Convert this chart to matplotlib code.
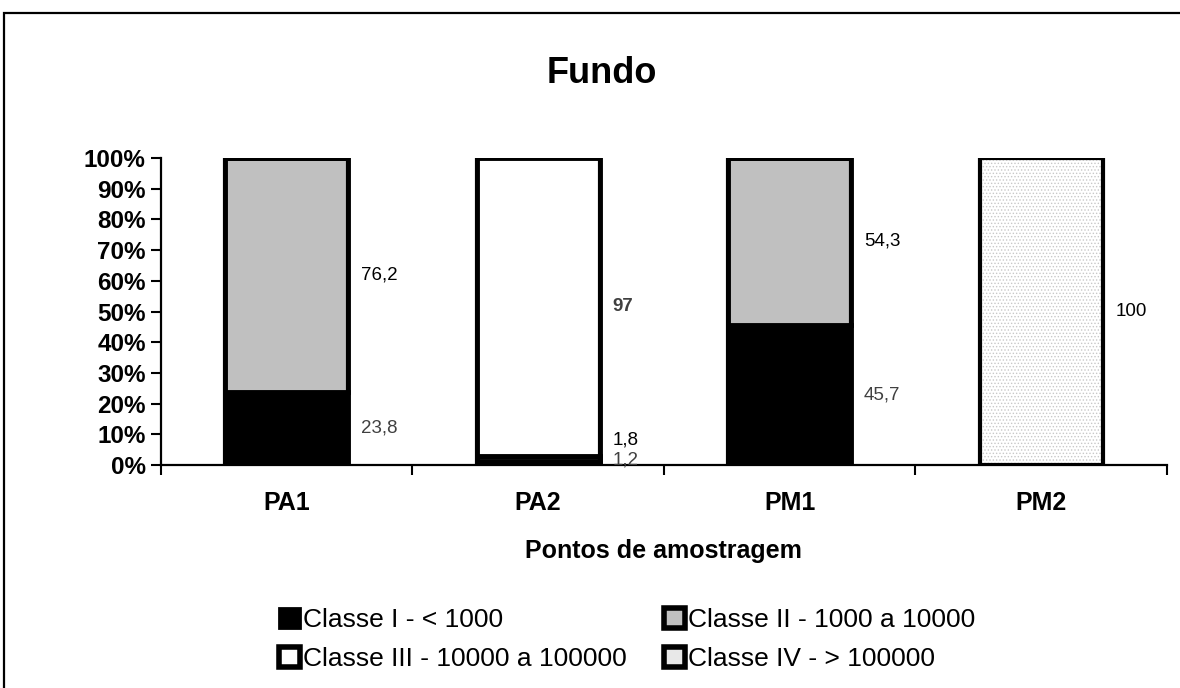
import matplotlib
matplotlib.use('Agg')
import matplotlib.pyplot as plt
from matplotlib.patches import Rectangle
import numpy as np

# data
pontos = ['PA1', 'PA2', 'PM1', 'PM2']
classes = ['Classe I - < 1000', 'Classe II - 1000 a 10000',
           'Classe III - 10000 a 100000', 'Classe IV - > 100000']
classe_1 = [23.8, 1.2, 45.7, 0]
classe_2 = [76.2, 1.8, 54.3, 0]
classe_3 = [0, 97, 0, 0]
classe_4 = [0, 0, 0, 100]

plt.rcParams['font.family'] = ['Liberation Sans', 'DejaVu Sans']
plt.rcParams['hatch.linewidth'] = 0.6

fig = plt.figure(figsize=(11.8, 6.88), dpi=100)
ax = fig.add_axes([0.1364, 0.3241, 0.8525, 0.4462])

# outer frame of the chart area
fig.patches.append(Rectangle((4 / 1180, -0.05), 1.2, 1.05 - 13 / 688,
                             transform=fig.transFigure, fill=False,
                             edgecolor='black', linewidth=1.6))

x = np.arange(len(pontos)) + 0.5
width = 0.49
series = [classe_1, classe_2, classe_3, classe_4]
fills = ['black', '#c0c0c0', 'white', 'white']

bottom = np.zeros(len(pontos))
for i, vals in enumerate(series):
    vals = np.array(vals, dtype=float)
    if i == 3:
        ax.bar(x, vals, width, bottom=bottom, color='white',
               edgecolor='#c8c8c8', linewidth=0, hatch='.....')
    else:
        ax.bar(x, vals, width, bottom=bottom, color=fills[i],
               edgecolor='black', linewidth=3.5)
    bottom += vals

# thick outline around each stacked bar
ax.bar(x, bottom, width, fill=False, edgecolor='black', linewidth=3,
       joinstyle='miter')

# value labels, to the right of each segment
label_colors = ['#404040', 'black', '#404040', 'black']
nudge = {(1, 0): 1.0, (1, 1): 6.0}
bottom = np.zeros(len(pontos))
for i, vals in enumerate(series):
    for j, v in enumerate(vals):
        if v <= 0:
            continue
        yc = bottom[j] + v / 2 + nudge.get((j, i), 0)
        txt = f'{v:g}'.replace('.', ',')
        weight = 'bold' if (i == 2) else 'normal'
        ax.text(x[j] + width / 2 + 0.05, yc, txt, ha='left', va='center',
                fontsize=13.5, color=label_colors[i], fontweight=weight)
    bottom += np.array(vals, dtype=float)

ax.set_xlim(0, 4)
ax.set_ylim(0, 100)
ax.set_yticks(np.arange(0, 101, 10))
ax.set_yticklabels([f'{v}%' for v in range(0, 101, 10)],
                   fontsize=17.5, fontweight='bold')
ax.set_xticks(x)
ax.set_xticklabels(pontos, fontsize=18, fontweight='bold')
ax.tick_params(axis='x', which='major', length=0, pad=19)
ax.set_xticks(np.arange(0, 5), minor=True)
ax.tick_params(axis='x', which='minor', length=7, width=1.5, direction='out')
ax.tick_params(axis='y', length=7, width=1.5, direction='out', pad=4)

for s in ['top', 'right']:
    ax.spines[s].set_visible(False)
for s in ['left', 'bottom']:
    ax.spines[s].set_linewidth(1.6)

ax.set_xlabel('Pontos de amostragem', fontsize=18, fontweight='bold',
              labelpad=17)
fig.text(0.51, 1 - 83 / 688, 'Fundo', ha='center', va='baseline',
         fontsize=26, fontweight='bold')

# legend
handles = [
    Rectangle((0, 0), 1, 1, facecolor='black', edgecolor='black', linewidth=2),
    Rectangle((0, 0), 1, 1, facecolor='#c0c0c0', edgecolor='black', linewidth=4),
    Rectangle((0, 0), 1, 1, facecolor='white', edgecolor='black', linewidth=4),
    Rectangle((0, 0), 1, 1, facecolor='#e8e8e8', edgecolor='black', linewidth=4),
]
order = [0, 2, 1, 3]
fig.legend([handles[k] for k in order], [classes[k] for k in order],
           ncol=2, loc='center left', bbox_to_anchor=(0.2364, 0.0705),
           frameon=False, fontsize=19, handlelength=0.8, handleheight=0.8,
           handletextpad=0.12, columnspacing=1.4, labelspacing=0.58,
           borderaxespad=0, borderpad=0)

fig.savefig('out.png', dpi=100)
